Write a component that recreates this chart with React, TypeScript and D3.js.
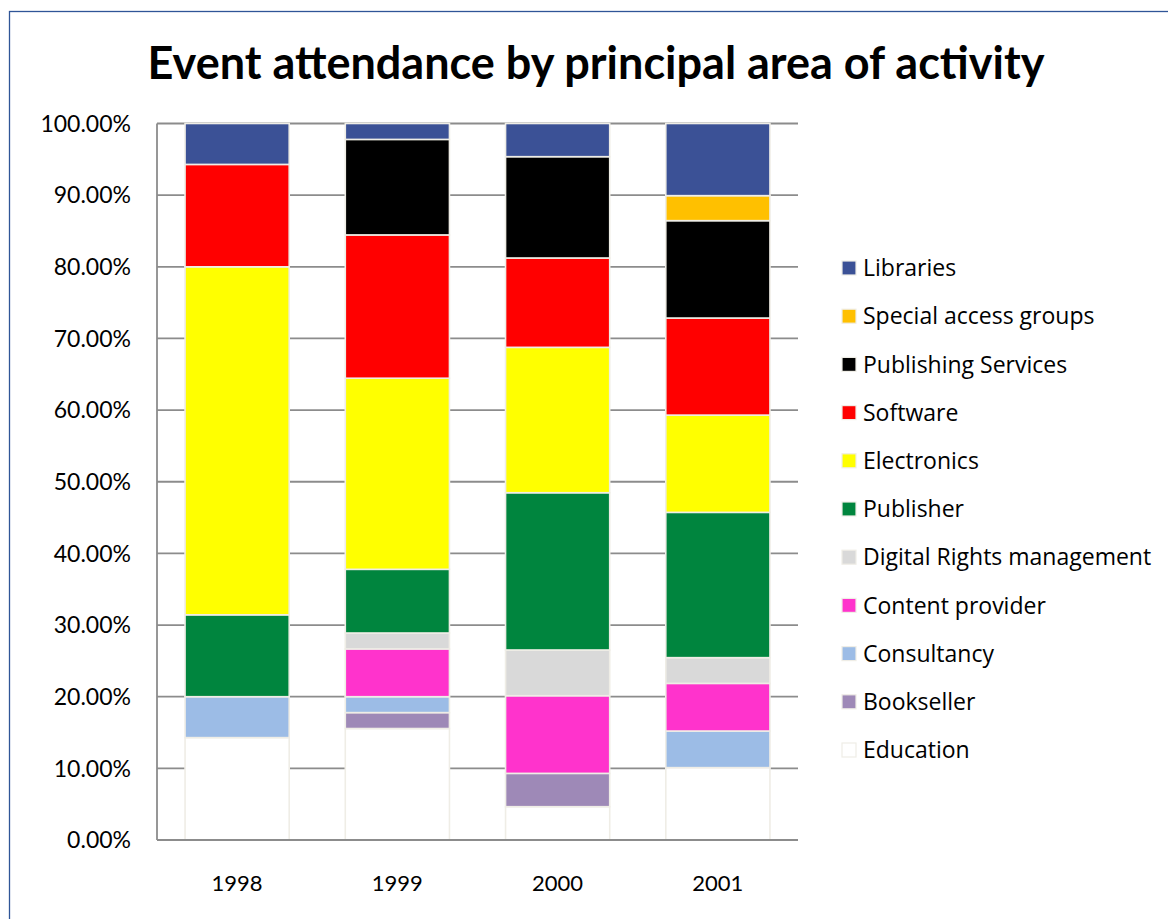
import * as d3 from 'd3';

const years = ['1998', '1999', '2000', '2001'];

// series, bottom of the stack first (percent of attendance)
const seriesNames = [
  'Education',
  'Bookseller',
  'Consultancy',
  'Content provider',
  'Digital Rights management',
  'Publisher',
  'Electronics',
  'Software',
  'Publishing Services',
  'Special access groups',
  'Libraries',
];

const education = [14.29, 15.56, 4.65, 10.1];
const bookseller = [0, 2.22, 4.65, 0];
const consultancy = [5.71, 2.22, 0, 5.11];
const contentProvider = [0, 6.67, 10.84, 6.65];
const drm = [0, 2.22, 6.38, 3.59];
const publisher = [11.43, 8.89, 21.95, 20.28];
const electronics = [48.57, 26.67, 20.29, 13.57];
const software = [14.29, 20.0, 12.47, 13.55];
const publishingServices = [0, 13.33, 14.14, 13.59];
const specialAccess = [0, 0, 0, 3.49];
const libraries = [5.71, 2.22, 4.63, 10.07];

const seriesValues = [
  education,
  bookseller,
  consultancy,
  contentProvider,
  drm,
  publisher,
  electronics,
  software,
  publishingServices,
  specialAccess,
  libraries,
];

const seriesColors = [
  '#FFFFFF',
  '#9E89B7',
  '#9CBCE6',
  '#FF33CC',
  '#D9D9D9',
  '#00853E',
  '#FFFF00',
  '#FF0000',
  '#000000',
  '#FFC000',
  '#3B5196',
];

const yTicks = [0, 10, 20, 30, 40, 50, 60, 70, 80, 90, 100];

const W = 1168;
const H = 919;
const plot = { left: 157, right: 798, top: 123.5, bottom: 840 };
const FONT = 'Lato, "Open Sans", sans-serif';

export default function App() {
  const table = years.map((year, i) => {
    const row: Record<string, any> = { year };
    seriesNames.forEach((name, s) => (row[name] = seriesValues[s][i]));
    return row;
  });

  const stacked = d3.stack<any>().keys(seriesNames)(table);

  const x = d3
    .scaleBand()
    .domain(years)
    .range([plot.left, plot.right])
    .paddingInner(0.35)
    .paddingOuter(0.175);

  const y = d3.scaleLinear().domain([0, 100]).range([plot.bottom, plot.top]);

  const legendItems = seriesNames.map((name, i) => ({ name, color: seriesColors[i] })).reverse();
  const legendY = d3
    .scalePoint()
    .domain(legendItems.map((d) => d.name))
    .range([268, 750]);

  return (
    <svg
      width={W}
      height={H}
      style={{ position: 'absolute', left: 0, top: 0, background: '#fff' }}
      fontFamily={FONT}
    >
      <rect x={0} y={0} width={W} height={H} fill="#fff" />
      {/* chart frame */}
      <rect x={9.5} y={11.5} width={W + 20} height={H + 20} fill="none" stroke="#2F5597" strokeWidth={1.3} />

      <text
        x={596}
        y={79}
        textAnchor="middle"
        fontSize={45}
        fontWeight={700}
        fill="#000"
      >
        Event attendance by principal area of activity
      </text>

      {/* gridlines */}
      {yTicks.map((t) => (
        <line
          key={t}
          x1={plot.left}
          x2={plot.right}
          y1={y(t)}
          y2={y(t)}
          stroke="#8C8C8C"
          strokeWidth={1.8}
        />
      ))}
      <line x1={plot.left} x2={plot.left} y1={plot.top} y2={plot.bottom} stroke="#8C8C8C" strokeWidth={1.8} />

      {/* y tick labels */}
      {yTicks.map((t) => (
        <text
          key={t}
          x={131}
          y={y(t)}
          dy="0.36em"
          textAnchor="end"
          fontSize={23}
          fill="#000"
        >
          {t.toFixed(2)}%
        </text>
      ))}

      {/* bars */}
      {stacked.map((layer, s) => (
        <g key={layer.key}>
          {layer.map((d, i) =>
            d[1] - d[0] > 0 ? (
              <rect
                key={i}
                x={x(years[i])}
                y={y(d[1])}
                width={x.bandwidth()}
                height={y(d[0]) - y(d[1])}
                fill={seriesColors[s]}
                stroke="#EFEDE6"
                strokeWidth={1.6}
              />
            ) : null
          )}
        </g>
      ))}

      {/* x axis */}
      <line x1={plot.left} x2={plot.right} y1={plot.bottom} y2={plot.bottom} stroke="#8C8C8C" strokeWidth={1.8} />
      {years.map((yr) => (
        <text
          key={yr}
          x={(x(yr) || 0) + x.bandwidth() / 2}
          y={891}
          textAnchor="middle"
          fontSize={22}
          fill="#000"
        >
          {yr}
        </text>
      ))}

      {/* legend */}
      {legendItems.map((d) => (
        <g key={d.name} transform={`translate(842,${legendY(d.name)})`}>
          <rect
            x={0}
            y={-7}
            width={14}
            height={14}
            fill={d.color}
            stroke="#EFEDE6"
            strokeWidth={1.2}
          />
          <text
            x={21}
            y={0}
            dy="0.36em"
            fontSize={23}
            fontFamily='"Open Sans", Lato, sans-serif'
            fill="#000"
          >
            {d.name}
          </text>
        </g>
      ))}
    </svg>
  );
}
